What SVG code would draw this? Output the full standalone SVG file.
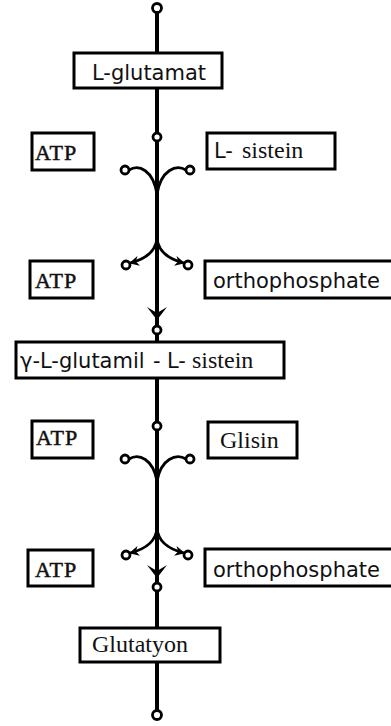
<svg xmlns="http://www.w3.org/2000/svg" width="391" height="726" viewBox="0 0 391 726">
<style>
.box{fill:#fff;stroke:#000;stroke-width:3}
.sans{font-family:"DejaVu Sans",sans-serif;font-size:21px;fill:#111}
.serif{font-family:"Liberation Serif",serif;font-size:24px;fill:#111}
.atp{font-family:"Liberation Serif",serif;font-size:22px;fill:#111;stroke:#111;stroke-width:0.5;letter-spacing:1px}
.main{stroke:#000;stroke-width:4;fill:none}
.cur{stroke:#000;stroke-width:2.8;fill:none}
.dot{fill:#fff;stroke:#000;stroke-width:2.8}
</style>
<defs>
<marker id="ah" viewBox="0 0 10 10" refX="9" refY="5" markerWidth="10" markerHeight="10" markerUnits="userSpaceOnUse" orient="auto">
<path d="M0,0 L10,5 L0,10 L3,5 Z" fill="#000"/>
</marker>
</defs>
<rect width="391" height="726" fill="#fff"/>
<g id="connectors">
<line class="main" x1="157" y1="8" x2="157" y2="715"/>
<path class="cur" d="M129,170 C139,164 153,170 157,194"/>
<path class="cur" d="M186,170 C176,164 161,170 157,194"/>
<path class="cur" d="M157,238 C156,252 146,259 130,263" marker-end="url(#ah)"/>
<path class="cur" d="M157,238 C158,252 168,259 184,263" marker-end="url(#ah)"/>
<path d="M147,307 L157,320 L167,307 L157,313 Z" fill="#000"/>
<path class="cur" d="M129,459 C139,453 153,459 157,481"/>
<path class="cur" d="M186,459 C176,453 161,459 157,481"/>
<path class="cur" d="M157,528 C156,542 146,549 130,553" marker-end="url(#ah)"/>
<path class="cur" d="M157,528 C158,542 168,549 184,553" marker-end="url(#ah)"/>
<path d="M147,565 L157,578 L167,565 L157,571 Z" fill="#000"/>
<circle class="dot" cx="157" cy="8" r="4.5"/>
<circle class="dot" cx="157" cy="137" r="4"/>
<circle class="dot" cx="125" cy="170" r="4"/>
<circle class="dot" cx="190" cy="170" r="4"/>
<circle class="dot" cx="126" cy="265" r="4"/>
<circle class="dot" cx="188" cy="265" r="4"/>
<circle class="dot" cx="157" cy="330" r="4"/>
<circle class="dot" cx="157" cy="426" r="4"/>
<circle class="dot" cx="125" cy="459" r="4"/>
<circle class="dot" cx="190" cy="459" r="4"/>
<circle class="dot" cx="126" cy="555" r="4"/>
<circle class="dot" cx="188" cy="555" r="4"/>
<circle class="dot" cx="157" cy="587" r="4"/>
<circle class="dot" cx="157" cy="715" r="4.5"/>
</g>
<g id="l-glutamat">
<rect class="box" x="74" y="53" width="148" height="35"/>
<text class="sans" x="92" y="80">L-glutamat</text>
</g>
<g id="atp1">
<rect class="box" x="32" y="133" width="62" height="37"/>
<text class="atp" x="35" y="160">ATP</text>
</g>
<g id="l-sistein">
<rect class="box" x="207" y="133" width="128" height="36"/>
<text x="214" y="158"><tspan class="sans">L- </tspan><tspan class="serif" x="242">sistein</tspan></text>
</g>
<g id="atp2">
<rect class="box" x="30" y="261" width="63" height="37"/>
<text class="atp" x="35" y="288">ATP</text>
</g>
<g id="orthophosphate1">
<rect class="box" x="205" y="261" width="190" height="37"/>
<text class="sans" x="213" y="288">orthophosphate</text>
</g>
<g id="gamma-glutamil-sistein">
<rect class="box" x="16" y="342" width="268" height="36"/>
<text x="20" y="368"><tspan class="sans">γ-L-glutamil</tspan><tspan class="sans" x="153">-</tspan><tspan class="sans" x="167">L-</tspan><tspan class="serif" x="192">sistein</tspan></text>
</g>
<g id="atp3">
<rect class="box" x="32" y="421" width="61" height="37"/>
<text class="atp" x="36" y="445">ATP</text>
</g>
<g id="glisin">
<rect class="box" x="208" y="422" width="89" height="36"/>
<text class="serif" x="220" y="448">Glisin</text>
</g>
<g id="atp4">
<rect class="box" x="28" y="550" width="65" height="36"/>
<text class="atp" x="35" y="577">ATP</text>
</g>
<g id="orthophosphate2">
<rect class="box" x="205" y="549" width="190" height="37"/>
<text class="sans" x="213" y="577">orthophosphate</text>
</g>
<g id="glutatyon">
<rect class="box" x="80" y="628" width="140" height="34"/>
<text class="serif" x="92" y="652">Glutatyon</text>
</g>
</svg>
